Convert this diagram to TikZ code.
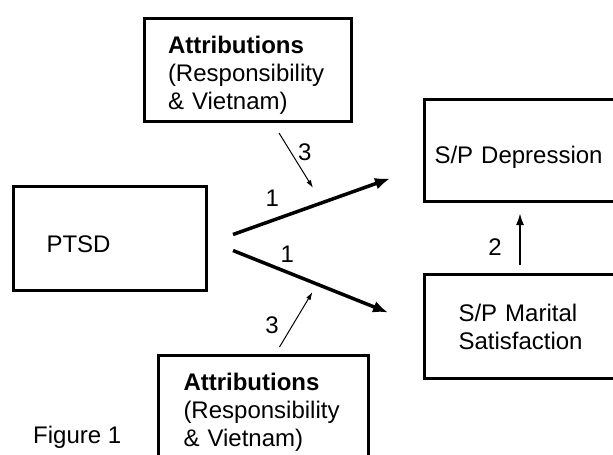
\documentclass[tikz,border=0pt]{standalone}
\usepackage{fontspec}
\setmainfont{Liberation Sans}
\usetikzlibrary{arrows.meta}
\usetikzlibrary{calc}

\begin{document}
\begin{tikzpicture}[x=1pt, y=-1pt, font=\fontsize{24}{28}\selectfont]
      \tikzstyle{box} = [draw, line width=3pt, rectangle, anchor=north west, align=left, inner ysep=0pt]
      \tikzstyle{bigarrow} = [line width=3.5pt, -{Latex[length=15pt,width=12pt]}]
      \tikzstyle{midarrow} = [line width=2pt, -{Latex[length=12pt,width=8pt]}]
      \tikzstyle{thinarrow} = [line width=1pt, -{Latex[length=8pt,width=5pt]}]
      \tikzstyle{num} = [inner sep=0pt]
      \useasboundingbox (0,0) rectangle (613,455);
      %nodes
      \node[box, text width=160pt, inner xsep=23.5pt, minimum height=103pt, text height=27pt] (attrtop) at (143,17) {\textbf{Attributions}\\(Responsibility\\\& Vietnam)};
      \node[box, text width=127pt, inner xsep=33pt, minimum height=104pt, text height=27pt, text depth=0pt] (ptsd) at (12,185) {PTSD};
      \node[box, text width=207pt, inner xsep=10pt, minimum height=102pt, text height=25pt, text depth=0pt] (depression) at (423,98) {S/P Depression};
      \node[box, text width=160pt, inner xsep=34pt, minimum height=104pt] (marital) at (423,273) {S/P Marital\\Satisfaction};
      \node[box, text width=160pt, inner xsep=25pt, minimum height=113pt] (attrbottom) at (157,354) {\textbf{Attributions}\\(Responsibility\\\& Vietnam)};
      \node[anchor=west, inner sep=0pt] (figlabel) at (33,437) {Figure 1};

      %arrow ends
      \coordinate (ptsdup) at ($(ptsd.east)+(25,-4)$);
      \coordinate (ptsddown) at ($(ptsd.east)+(25,12)$);
      \coordinate (depin) at ($(depression.west)+(-33,28)$);
      \coordinate (marin) at ($(marital.west)+(-35,-14)$);
      \coordinate (attrtopout) at ($(attrtop.south)+(31,10)$);
      \coordinate (attrtopin) at ($(attrtop.south)+(65,65)$);
      \coordinate (attrbotout) at ($(attrbottom.north)+(16,-7)$);
      \coordinate (attrbotin) at ($(attrbottom.north)+(49,-62)$);
      \coordinate (marout) at ($(marital.north west)+(97,-8)$);
      \coordinate (depbelow) at ($(depression.south west)+(97,10)$);

      %lines
      \draw[bigarrow] (ptsdup) -- node[num, pos=0.25, yshift=22pt] {1} (depin);
      \draw[bigarrow] (ptsddown) -- node[num, pos=0.35, yshift=18pt] {1} (marin);
      \draw[thinarrow] (attrtopout) -- node[num, pos=0.35, xshift=14pt] {3} (attrtopin);
      \draw[thinarrow] (attrbotout) -- node[num, pos=0.35, xshift=-19pt, yshift=3pt] {3} (attrbotin);
      \draw[midarrow] (marout) -- node[num, pos=0.35, xshift=-25pt] {2} (depbelow);
\end{tikzpicture}
\end{document}
